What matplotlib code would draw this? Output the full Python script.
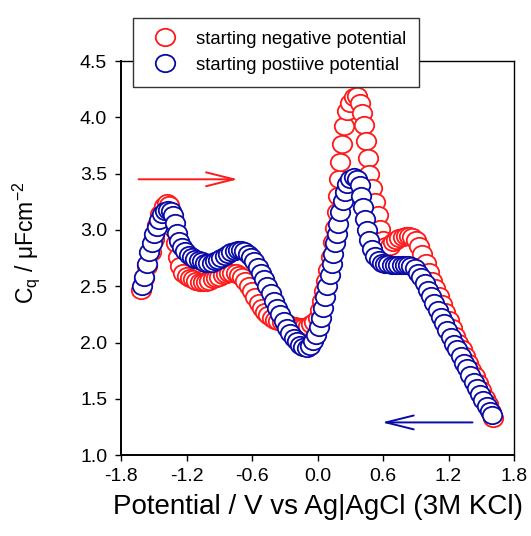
import matplotlib
matplotlib.use("Agg")
import matplotlib.pyplot as plt
from matplotlib.path import Path
from matplotlib.transforms import Affine2D

plt.rcParams['font.family'] = ['Liberation Sans', 'DejaVu Sans']

# potential (V) and capacitance (uF cm-2), sweep starting at negative potential
neg_v = [-1.62, -1.59, -1.56, -1.53, -1.50, -1.47, -1.44, -1.41, -1.38,
         -1.36, -1.34, -1.32, -1.30, -1.28, -1.26, -1.23, -1.20,
         -1.17, -1.14, -1.11, -1.08, -1.05, -1.02, -0.99, -0.96, -0.93, -0.90,
         -0.87, -0.84, -0.81, -0.78, -0.75, -0.72, -0.69, -0.66, -0.63,
         -0.60, -0.57, -0.54, -0.51, -0.48, -0.45, -0.42, -0.39, -0.36, -0.33,
         -0.30, -0.27, -0.24, -0.21, -0.18, -0.15, -0.12, -0.09, -0.06, -0.03,
         0.00, 0.02, 0.04, 0.06, 0.08, 0.10, 0.12, 0.14, 0.16, 0.18,
         0.19, 0.20, 0.21, 0.22, 0.24, 0.27, 0.30, 0.33, 0.36, 0.39,
         0.41, 0.43, 0.445, 0.46, 0.475, 0.50, 0.525, 0.55, 0.575, 0.60,
         0.63, 0.66, 0.69, 0.72, 0.75, 0.78, 0.81, 0.84, 0.87, 0.90,
         0.93, 0.96, 0.99, 1.02,
         1.05, 1.08, 1.11, 1.14, 1.17, 1.20, 1.23, 1.26, 1.29, 1.32,
         1.35, 1.38, 1.41, 1.44, 1.47, 1.50, 1.53, 1.56, 1.59, 1.61]
neg_c = [2.47, 2.57, 2.68, 2.80, 2.92, 3.04, 3.14, 3.21, 3.24,
         3.22, 3.14, 3.02, 2.88, 2.76, 2.68, 2.62, 2.59,
         2.57, 2.56, 2.55, 2.54, 2.54, 2.54, 2.55, 2.56, 2.57, 2.58,
         2.60, 2.61, 2.62, 2.62, 2.62, 2.60, 2.58, 2.55, 2.50,
         2.46, 2.40, 2.35, 2.31, 2.27, 2.24, 2.22, 2.20, 2.19, 2.18,
         2.17, 2.16, 2.15, 2.15, 2.14, 2.14, 2.14, 2.15, 2.16, 2.18,
         2.22, 2.29, 2.37, 2.46, 2.55, 2.64, 2.76, 2.89, 3.02, 3.16,
         3.30, 3.45, 3.60, 3.76, 3.92, 4.06, 4.13, 4.18, 4.19, 4.13,
         4.04, 3.93, 3.79, 3.64, 3.50, 3.37, 3.25, 3.13, 3.01, 2.91,
         2.86, 2.86, 2.89, 2.91, 2.93, 2.94, 2.95, 2.95, 2.94, 2.91,
         2.86, 2.79, 2.71, 2.63,
         2.55, 2.48, 2.41, 2.34, 2.27, 2.20, 2.13, 2.06, 2.00, 1.94,
         1.88, 1.82, 1.76, 1.70, 1.64, 1.58, 1.51, 1.45, 1.38, 1.33]

# sweep starting at positive potential
pos_v = [-1.61, -1.59, -1.565, -1.54, -1.52, -1.495, -1.47, -1.45, -1.425, -1.40,
         -1.37, -1.345, -1.32, -1.305, -1.29, -1.27, -1.24, -1.21, -1.18, -1.15,
         -1.12, -1.09, -1.06, -1.03, -1.00, -0.97, -0.94, -0.91, -0.88, -0.85,
         -0.82, -0.79, -0.76, -0.73, -0.70, -0.67, -0.64, -0.61, -0.58, -0.55,
         -0.52, -0.49, -0.46, -0.43, -0.40, -0.37, -0.34, -0.31, -0.28, -0.25,
         -0.22, -0.19, -0.16, -0.13, -0.10, -0.07, -0.04, -0.01, 0.01, 0.03,
         0.05, 0.07, 0.09, 0.11, 0.13, 0.145, 0.16, 0.175, 0.19, 0.21,
         0.23, 0.25, 0.27, 0.30, 0.33, 0.36, 0.385, 0.40, 0.415, 0.435,
         0.455, 0.475, 0.50, 0.53, 0.56, 0.59, 0.62, 0.65, 0.68, 0.71,
         0.74, 0.77, 0.80, 0.83, 0.86, 0.89, 0.92, 0.95, 0.98, 1.01,
         1.04, 1.07, 1.10, 1.13, 1.16, 1.19, 1.22, 1.25, 1.28, 1.31,
         1.34, 1.37, 1.40, 1.43, 1.46, 1.49, 1.52, 1.55, 1.58, 1.60]
pos_c = [2.50, 2.58, 2.70, 2.80, 2.88, 2.96, 3.03, 3.09, 3.14, 3.17,
         3.18, 3.17, 3.13, 3.06, 2.97, 2.90, 2.85, 2.81, 2.78, 2.76,
         2.74, 2.73, 2.72, 2.71, 2.71, 2.71, 2.72, 2.73, 2.75, 2.77,
         2.79, 2.80, 2.81, 2.82, 2.82, 2.81, 2.79, 2.76, 2.72, 2.67,
         2.62, 2.56, 2.50, 2.44, 2.37, 2.31, 2.25, 2.19, 2.13, 2.08,
         2.04, 2.01, 1.98, 1.96, 1.95, 1.97, 2.01, 2.07, 2.14, 2.22,
         2.31, 2.40, 2.50, 2.60, 2.70, 2.79, 2.88, 2.96, 3.05, 3.16,
         3.26, 3.34, 3.41, 3.45, 3.47, 3.45, 3.40, 3.30, 3.20, 3.10,
         3.00, 2.91, 2.83, 2.77, 2.73, 2.71, 2.70, 2.70, 2.69, 2.69,
         2.69, 2.69, 2.69, 2.69, 2.68, 2.66, 2.62, 2.58, 2.53, 2.47,
         2.41, 2.35, 2.29, 2.23, 2.17, 2.11, 2.05, 1.99, 1.94, 1.88,
         1.82, 1.77, 1.71, 1.65, 1.60, 1.54, 1.49, 1.44, 1.39, 1.36]

labels = ['starting negative potential', 'starting postiive potential']
colors = ['#ff1a1a', '#0a0aa8']
x_ticks = [-1.8, -1.2, -0.6, 0.0, 0.6, 1.2, 1.8]
y_ticks = [1.0, 1.5, 2.0, 2.5, 3.0, 3.5, 4.0, 4.5]

# the source picture is a little wider than tall, circles look like ellipses
ellipse = Affine2D().scale(1.12, 1.0).transform_path(Path.unit_circle())

fig = plt.figure(figsize=(5.31, 5.36), dpi=100)
ax = fig.add_axes([0.228, 0.151, 0.740, 0.735])

for v, c, col, lab in [(neg_v, neg_c, colors[0], labels[0]),
                       (pos_v, pos_c, colors[1], labels[1])]:
    ax.plot(v, c, linestyle='none', marker=ellipse, markersize=14,
            markerfacecolor='white', markeredgecolor=col, markeredgewidth=1.3,
            label=lab)

# sweep direction arrows
ax.annotate('', xy=(-0.73, 3.45), xytext=(-1.64, 3.45),
            arrowprops=dict(arrowstyle='->,head_length=2.0,head_width=0.5',
                            color=colors[0], lw=1.4, shrinkA=0, shrinkB=0))
ax.annotate('', xy=(0.59, 1.29), xytext=(1.42, 1.29),
            arrowprops=dict(arrowstyle='->,head_length=2.0,head_width=0.5',
                            color=colors[1], lw=1.4, shrinkA=0, shrinkB=0))

ax.set_xlim(-1.8, 1.8)
ax.set_ylim(1.0, 4.5)
ax.set_xticks(x_ticks)
ax.set_xticklabels([f'{t:.1f}' for t in x_ticks])
ax.set_yticks(y_ticks)
ax.set_yticklabels([f'{t:.1f}' for t in y_ticks])
ax.tick_params(direction='out', length=4, width=1.0, labelsize=14, color='black')
ax.tick_params(axis='x', pad=5)
ax.tick_params(axis='y', pad=6)
for side in ['left', 'bottom']:
    ax.spines[side].set_linewidth(1.4)
for side in ['top', 'right']:
    ax.spines[side].set_linewidth(1.0)

ax.set_xlabel('Potential / V vs Ag|AgCl (3M KCl)', fontsize=20, labelpad=7)
ax.set_ylabel(r'C$_\mathregular{q}$ / $\mathregular{\mu}$Fcm$^\mathregular{-2}$', fontsize=16.5)
ax.yaxis.set_label_coords(-0.2, 0.54)

leg = ax.legend(loc='upper left', bbox_to_anchor=(133 / 531, 1 - 18 / 536),
                bbox_transform=fig.transFigure, fontsize=13.3, frameon=True,
                fancybox=False, borderpad=0.7, handlelength=2.1,
                handletextpad=0.6, labelspacing=0.48, borderaxespad=0,
                numpoints=1)
leg.get_frame().set_edgecolor('#333333')
leg.get_frame().set_linewidth(1.0)
leg.get_frame().set_alpha(1)
leg.set_zorder(5)

fig.savefig('out.png', dpi=100)
